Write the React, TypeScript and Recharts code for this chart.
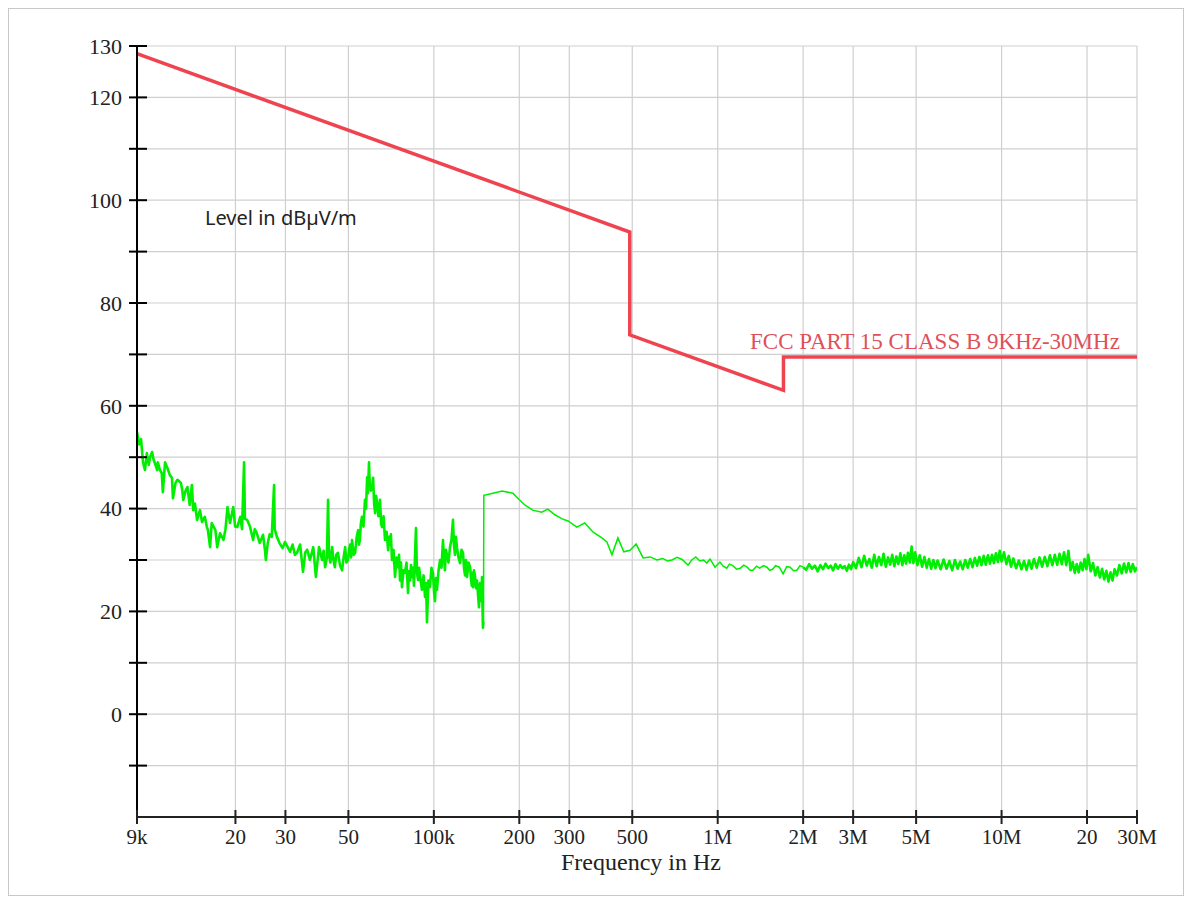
import React from "react";
import { LineChart, Line, XAxis, YAxis, CartesianGrid } from "recharts";

// frequency in kHz, level in dBµV/m
const limitLine: [number, number][] = [
  [9, 128.5],
  [490, 93.8],
  [490, 73.8],
  [1705, 63.0],
  [1705, 69.5],
  [30000, 69.5],
];

// 9 kHz - 150 kHz (kHz, dB)
const scanLow: [number, number][] = [
  [9.0, 54.9], [9.15, 52.5], [9.3, 53.5], [9.45, 49.0], [9.6, 47.5], [9.75, 50.8],
  [9.9, 48.5], [10.0, 50.0], [10.17, 51.0], [10.3, 49.5], [10.4, 48.9], [10.6, 47.5],
  [10.65, 49.0], [10.85, 47.5], [11.0, 46.9], [11.1, 43.2], [11.3, 49.0], [11.5, 48.0],
  [11.75, 46.5], [11.95, 46.0], [12.05, 42.0], [12.3, 45.0], [12.5, 45.6], [12.85, 45.0],
  [13.0, 43.5], [13.1, 41.7], [13.35, 43.5], [13.55, 44.2], [13.8, 40.7], [14.05, 44.6],
  [14.2, 39.7], [14.4, 41.0], [14.65, 37.8], [15.0, 39.7], [15.25, 37.4], [15.6, 38.4],
  [15.85, 36.5], [16.0, 35.8], [16.28, 32.5], [16.5, 37.2], [17.0, 35.8], [17.25, 32.5],
  [17.65, 35.2], [18.15, 33.9], [18.45, 36.0], [18.75, 40.3], [19.14, 37.2], [19.65, 40.3],
  [19.95, 36.5], [20.3, 36.4], [20.8, 38.4], [21.1, 36.0], [21.45, 49.0], [21.6, 38.0],
  [22.0, 37.8], [22.5, 36.5], [23.08, 33.9], [23.4, 36.0], [23.8, 35.2], [24.35, 33.3],
  [25.03, 34.9], [25.4, 32.0], [25.6, 30.0], [26.0, 33.3], [26.4, 35.0], [26.85, 34.5],
  [27.36, 44.6], [27.5, 36.0], [28.0, 34.5], [28.6, 33.3], [29.3, 32.3], [29.9, 33.5],
  [30.3, 32.9], [31.15, 31.6], [31.8, 33.0], [32.4, 31.0], [32.96, 31.4], [33.8, 33.0],
  [34.6, 27.7], [35.25, 31.5], [35.8, 32.0], [36.6, 30.0], [37.6, 32.5], [38.4, 26.7],
  [39.4, 32.5], [40.4, 30.0], [40.9, 31.8], [41.4, 28.6], [42.0, 30.5], [42.4, 41.7],
  [42.7, 31.0], [43.2, 29.5], [43.8, 32.5], [44.3, 30.0], [44.8, 28.6], [45.3, 31.0],
  [45.9, 31.4], [46.7, 29.0], [47.5, 28.0], [48.1, 30.5], [48.7, 32.5], [49.2, 29.5],
  [49.8, 30.0], [50.3, 32.0], [50.7, 33.0], [51.1, 30.5], [51.5, 33.9], [52.2, 31.0],
  [52.8, 31.4], [53.5, 34.5], [54.1, 35.8], [54.5, 33.0], [54.9, 34.0], [55.3, 37.0],
  [55.8, 38.4], [56.5, 36.5], [57.2, 41.7], [57.7, 40.0], [58.2, 46.1], [58.6, 43.0],
  [59.1, 49.0], [59.5, 44.0], [60.0, 43.5], [60.6, 44.2], [61.1, 46.0], [61.6, 41.0],
  [62.1, 39.1], [62.6, 42.5], [63.1, 41.1], [63.8, 38.5], [64.6, 41.7], [65.2, 37.0],
  [65.7, 36.4], [66.5, 38.5], [67.3, 33.9], [68.2, 35.5], [69.0, 31.9], [69.5, 34.5],
  [70.0, 33.0], [70.6, 35.0], [71.2, 30.0], [72.1, 32.0], [73.0, 26.7], [73.9, 30.5],
  [74.8, 28.6], [75.4, 31.0], [76.0, 26.0], [76.6, 29.5], [77.2, 24.7], [78.2, 28.0],
  [79.1, 27.5], [80.1, 29.5], [81.1, 23.6], [81.7, 27.8], [82.4, 26.0], [83.1, 29.0],
  [83.8, 26.7], [84.4, 28.5], [85.1, 25.0], [85.8, 30.5], [86.5, 36.2], [87.2, 27.5],
  [88.0, 26.1], [88.7, 28.5], [89.4, 27.0], [90.1, 25.5], [90.8, 24.2], [92.0, 27.0],
  [93.1, 22.8], [93.9, 25.5], [94.6, 17.9], [95.7, 26.0], [96.9, 24.7], [98.1, 28.5],
  [99.3, 27.5], [100.1, 24.0], [100.9, 22.0], [101.8, 26.5], [102.6, 24.2], [103.9, 28.0],
  [105.2, 30.0], [106.4, 28.5], [107.7, 33.9], [108.5, 30.5], [109.4, 28.0], [110.3, 32.0],
  [111.2, 31.0], [112.6, 29.5], [114.0, 32.5], [115.4, 34.0], [116.8, 37.8], [117.7, 33.0],
  [118.7, 31.0], [119.6, 34.5], [120.6, 32.5], [122.1, 30.5], [123.7, 29.4], [125.2, 32.0],
  [126.7, 31.4], [127.7, 28.5], [128.8, 27.0], [129.8, 30.0], [130.9, 26.7], [132.5, 29.5],
  [134.2, 28.6], [135.1, 26.5], [136.0, 25.0], [136.7, 27.5], [137.4, 24.7], [138.5, 28.0],
  [139.6, 27.0], [140.7, 24.5], [141.9, 26.0], [143.0, 23.5], [144.2, 20.8], [145.4, 25.5],
  [146.6, 24.5], [147.2, 22.0], [147.8, 26.7], [148.4, 21.0], [148.9, 16.8], [149.6, 18.0],
];

// 150 kHz - 2 MHz (kHz, dB)
const scanMid: [number, number][] = [
  [150, 42.6], [161.5, 43.0], [174, 43.4], [190, 43.0], [196, 42.2], [209, 40.7],
  [223, 39.7], [240, 39.3], [252, 39.9], [267, 38.8], [283, 38.0], [297, 37.6],
  [319, 36.4], [340, 37.2], [364, 35.4], [391, 34.3], [407, 33.5], [424, 31.0],
  [445, 34.3], [467, 31.6], [491, 31.9], [516, 33.1], [546, 30.4], [578, 30.6],
  [611, 30.0], [640, 30.3], [665, 29.8], [690, 30.0], [719, 30.5], [749, 30.1],
  [786, 29.0], [810, 30.0], [837, 30.6], [865, 29.8], [892, 30.0], [915, 29.4],
  [940, 30.2], [978, 28.6], [1018, 29.6], [1045, 28.8], [1076, 28.4], [1100, 29.2],
  [1130, 28.9], [1165, 28.2], [1200, 28.4], [1235, 29.0], [1270, 28.6], [1300, 28.0],
  [1330, 28.0], [1370, 28.8], [1405, 28.4], [1450, 28.9], [1490, 28.6], [1525, 28.0],
  [1560, 28.2], [1600, 28.9], [1650, 28.6], [1700, 27.3], [1750, 28.7], [1800, 28.6],
  [1850, 27.9], [1900, 28.0], [1950, 28.9],
];

// 2 MHz - 30 MHz (MHz, dB)
const scanHighMHz: [number, number][] = [
  [2.0, 28.6], [2.05, 28.1], [2.1, 29.2], [2.15, 28.3], [2.2, 28.9], [2.25, 27.8],
  [2.3, 29.0], [2.35, 28.2], [2.4, 29.3], [2.45, 28.4], [2.5, 28.9], [2.55, 28.0],
  [2.6, 29.2], [2.65, 28.3], [2.7, 29.0], [2.75, 28.4], [2.8, 28.8], [2.85, 27.9],
  [2.9, 29.1], [2.95, 28.2], [3.0, 29.6], [3.07, 28.4], [3.14, 30.4], [3.21, 28.6],
  [3.28, 30.8], [3.35, 28.9], [3.42, 30.2], [3.49, 28.5], [3.56, 31.0], [3.63, 28.8],
  [3.7, 30.6], [3.77, 29.0], [3.84, 31.2], [3.91, 28.7], [3.98, 30.5], [4.05, 29.1],
  [4.12, 31.0], [4.19, 28.8], [4.26, 30.7], [4.33, 29.2], [4.4, 31.3], [4.47, 29.0],
  [4.54, 30.9], [4.61, 29.3], [4.68, 31.4], [4.75, 29.5], [4.82, 32.6], [4.89, 29.4],
  [4.96, 31.5], [5.05, 29.0], [5.15, 30.9], [5.25, 28.7], [5.35, 30.6], [5.45, 28.5],
  [5.55, 30.2], [5.65, 28.3], [5.75, 30.0], [5.85, 28.4], [5.95, 29.9], [6.1, 28.2],
  [6.25, 30.1], [6.4, 28.3], [6.55, 29.8], [6.7, 28.0], [6.85, 30.0], [7.0, 28.3],
  [7.15, 29.7], [7.3, 28.2], [7.45, 30.0], [7.6, 28.5], [7.75, 30.2], [7.9, 28.6],
  [8.05, 30.4], [8.2, 28.9], [8.35, 30.6], [8.5, 29.0], [8.65, 30.8], [8.8, 29.1],
  [8.95, 30.9], [9.1, 29.3], [9.25, 31.0], [9.4, 29.4], [9.55, 31.3], [9.7, 29.6],
  [9.85, 31.8], [10.0, 29.7], [10.2, 31.5], [10.4, 29.2], [10.6, 30.8], [10.8, 28.7],
  [11.0, 30.3], [11.25, 28.4], [11.5, 29.9], [11.75, 28.2], [12.0, 29.8], [12.25, 28.1],
  [12.5, 29.9], [12.75, 28.3], [13.0, 30.2], [13.3, 28.5], [13.6, 30.5], [13.9, 28.7],
  [14.2, 30.6], [14.5, 28.8], [14.8, 30.9], [15.1, 29.0], [15.4, 31.0], [15.7, 29.1],
  [16.0, 31.2], [16.3, 29.2], [16.6, 31.5], [16.9, 29.0], [17.2, 31.8], [17.5, 28.0],
  [17.8, 29.6], [18.1, 27.5], [18.4, 29.2], [18.7, 27.6], [19.0, 29.5], [19.3, 28.0],
  [19.6, 30.2], [19.9, 28.2], [20.2, 31.0], [20.6, 27.8], [21.0, 29.4], [21.4, 27.0],
  [21.8, 28.6], [22.2, 26.6], [22.6, 28.3], [23.0, 26.2], [23.4, 27.9], [23.8, 25.8],
  [24.2, 27.6], [24.6, 26.0], [25.0, 28.2], [25.5, 27.0], [26.0, 29.0], [26.5, 27.4],
  [27.0, 29.3], [27.5, 27.6], [28.0, 29.4], [28.5, 27.7], [29.0, 29.2], [29.5, 27.8],
  [30.0, 28.6],
];

const xTicks = [9, 20, 30, 50, 100, 200, 300, 500, 1000, 2000, 3000, 5000, 10000, 20000, 30000];
const xTickLabels = ["9k", "20", "30", "50", "100k", "200", "300", "500", "1M", "2M", "3M", "5M", "10M", "20", "30M"];
const yTicks = [-20, -10, 0, 10, 20, 30, 40, 50, 60, 70, 80, 90, 100, 110, 120, 130];
const yLabelled = [0, 20, 40, 60, 80, 100, 120, 130];

const toRows = (pts: [number, number][]) => pts.map(([f, v]) => ({ f, v }));
const highKHz = scanHighMHz.map(([m, v]) => [m * 1000, v] as [number, number]);

const limitData = toRows(limitLine);
const lowData = toRows(scanLow);
// thin part joins the two noisy bands (incl. the 150 kHz step)
const midData = toRows([scanLow[scanLow.length - 1], ...scanMid, highKHz[0]]);
const highData = toRows(highKHz);

const serif = '"Liberation Serif", "Times New Roman", serif';

const XTick = (props: any) => {
  const { x, y, payload } = props;
  const i = xTicks.indexOf(payload.value);
  return (
    <g>
      <line x1={x} x2={x} y1={y - 7} y2={y + 7} stroke="#222" strokeWidth={2} />
      <text x={x} y={y + 27} textAnchor="middle" fontFamily={serif} fontSize={21} fill="#222">
        {xTickLabels[i]}
      </text>
    </g>
  );
};

const YTick = (props: any) => {
  const { x, y, payload } = props;
  const v = payload.value;
  return (
    <g>
      {v > -20 && <line x1={x - 8} x2={x + 10} y1={y} y2={y} stroke="#000" strokeWidth={2} />}
      {yLabelled.includes(v) && (
        <text x={x - 15} y={y} dy="0.35em" textAnchor="end" fontFamily={serif} fontSize={22} fill="#222">
          {v}
        </text>
      )}
    </g>
  );
};

const green = "#00ee00";

export default function App() {
  return (
    <div
      style={{
        position: "relative",
        width: 1176,
        height: 888,
        outline: "1px solid #c8c8c8",
        outlineOffset: -1,
        background: "#fff",
      }}
    >
      <LineChart width={1176} height={888} margin={{ top: 38, right: 47, bottom: 49, left: 69 }}>
        <CartesianGrid stroke="#cfcfcf" strokeWidth={1.2} />
        <XAxis
          dataKey="f"
          type="number"
          scale="log"
          domain={[9, 30000]}
          allowDataOverflow
          ticks={xTicks}
          interval={0}
          tickSize={0}
          tickMargin={0}
          tickLine={false}
          axisLine={{ stroke: "#222", strokeWidth: 2 }}
          tick={<XTick />}
          height={30}
        />
        <YAxis
          type="number"
          domain={[-20, 130]}
          allowDataOverflow
          ticks={yTicks}
          interval={0}
          tickSize={0}
          tickMargin={0}
          tickLine={false}
          axisLine={{ stroke: "#000", strokeWidth: 2 }}
          tick={<YTick />}
          width={60}
        />
        <Line
          data={limitData}
          dataKey="v"
          type="linear"
          stroke="#ef4450"
          strokeWidth={3.5}
          dot={false}
          isAnimationActive={false}
        />
        <Line
          data={midData}
          dataKey="v"
          type="linear"
          stroke={green}
          strokeWidth={1.5}
          dot={false}
          isAnimationActive={false}
        />
        <Line
          data={lowData}
          dataKey="v"
          type="linear"
          stroke={green}
          strokeWidth={2.6}
          strokeLinejoin="round"
          dot={false}
          isAnimationActive={false}
        />
        <Line
          data={highData}
          dataKey="v"
          type="linear"
          stroke={green}
          strokeWidth={2.6}
          strokeLinejoin="round"
          dot={false}
          isAnimationActive={false}
        />
      </LineChart>
      <div
        style={{
          position: "absolute",
          left: 197,
          top: 200,
          fontFamily: '"Noto Sans", sans-serif',
          fontSize: 20,
          lineHeight: 1,
          color: "#222",
          whiteSpace: "nowrap",
        }}
      >
        Level in dBµV/m
      </div>
      <div
        style={{
          position: "absolute",
          left: 742,
          top: 322,
          fontFamily: serif,
          fontSize: 23,
          lineHeight: 1,
          color: "#e0505a",
          whiteSpace: "nowrap",
        }}
      >
        FCC PART 15 CLASS B 9KHz-30MHz
      </div>
      <div
        style={{
          position: "absolute",
          left: 633,
          top: 842,
          transform: "translateX(-50%)",
          fontFamily: serif,
          fontSize: 24,
          lineHeight: 1,
          color: "#222",
          whiteSpace: "nowrap",
        }}
      >
        Frequency in Hz
      </div>
    </div>
  );
}
